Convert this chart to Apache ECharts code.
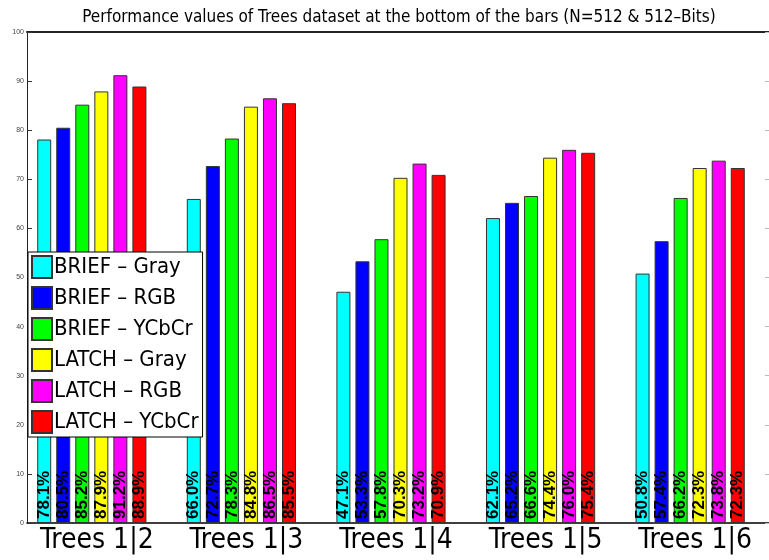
<!DOCTYPE html>
<html>
<head>
<meta charset="utf-8">
<script src="https://cdn.jsdelivr.net/npm/echarts@6/dist/echarts.min.js"></script>
<style>
  html, body { margin: 0; padding: 0; background: #fff; }
  #chart { width: 769px; height: 560px; }
</style>
</head>
<body>
<div id="chart"></div>
<script>
const categories = ['Trees 1|2', 'Trees 1|3', 'Trees 1|4', 'Trees 1|5', 'Trees 1|6']
const seriesNames = ['BRIEF – Gray', 'BRIEF – RGB', 'BRIEF – YCbCr', 'LATCH – Gray', 'LATCH – RGB', 'LATCH – YCbCr']
const briefGray = [78.1, 66.0, 47.1, 62.1, 50.8]
const briefRgb = [80.5, 72.7, 53.3, 65.2, 57.4]
const briefYcbcr = [85.2, 78.3, 57.8, 66.6, 66.2]
const latchGray = [87.9, 84.8, 70.3, 74.4, 72.3]
const latchRgb = [91.2, 86.5, 73.2, 76.0, 73.8]
const latchYcbcr = [88.9, 85.5, 70.9, 75.4, 72.3]
const yTicks = [0, 10, 20, 30, 40, 50, 60, 70, 80, 90, 100]

const colors = ['#00ffff', '#0000ff', '#00ff00', '#ffff00', '#ff00ff', '#ff0000']
const allValues = [briefGray, briefRgb, briefYcbcr, latchGray, latchRgb, latchYcbcr]

// condensed face, closest to the narrow font of the original
const narrow = '"DejaVu Sans Condensed", "Liberation Sans Narrow", "Liberation Sans", sans-serif'

const chart = echarts.init(document.getElementById('chart'))

const series = allValues.map((vals, k) => ({
  name: seriesNames[k],
  type: 'bar',
  xAxisIndex: 0,
  yAxisIndex: 0,
  barWidth: 14,
  barGap: '36%',
  data: vals.map((v, i) => [i + 1, v]),
  itemStyle: {
    color: colors[k],
    borderColor: '#333',
    borderWidth: 1
  },
  label: {
    show: true,
    position: 'insideBottom',
    rotate: 90,
    align: 'left',
    verticalAlign: 'middle',
    distance: 4,
    formatter: p => p.value[1].toFixed(1) + '%',
    color: '#000',
    fontWeight: 'bold',
    fontSize: 17,
    fontFamily: '"Liberation Sans", Arial, sans-serif'
  },
  animation: false
}))

chart.setOption({
  animation: false,
  title: {
    text: 'Performance values of Trees dataset at the bottom of the bars (N=512 & 512–Bits)',
    left: 394,
    textAlign: 'center',
    top: 4,
    textStyle: {
      fontFamily: narrow,
      fontWeight: 'normal',
      fontSize: 17,
      color: '#000'
    }
  },
  legend: {
    orient: 'vertical',
    left: 28,
    top: 252,
    padding: [3, 4, 3, 3],
    itemWidth: 20,
    itemHeight: 22,
    itemGap: 7,
    backgroundColor: '#fff',
    borderColor: '#000',
    borderWidth: 1,
    icon: 'rect',
    textStyle: {
      fontFamily: narrow,
      fontSize: 22,
      lineHeight: 22,
      color: '#000',
      padding: [0, 0, 0, -3]
    },
    data: seriesNames
  },
  grid: {
    left: 27,
    right: -2,
    top: 32,
    bottom: 37,
    containLabel: false
  },
  xAxis: [{
    type: 'value',
    min: 0.5667,
    max: 5.527,
    position: 'bottom',
    splitLine: { show: false },
    axisTick: { show: false },
    axisLine: { show: true, onZero: false, lineStyle: { color: '#000', width: 1.5 } },
    axisLabel: {
      customValues: [1, 2, 3, 4, 5],
      formatter: v => categories[Math.round(v) - 1] || '',
      fontFamily: narrow,
      fontSize: 28,
      color: '#000',
      margin: 4,
      padding: [0, 0, 0, 10]
    }
  }, {
    type: 'value',
    min: 0.5667,
    max: 5.527,
    position: 'top',
    splitLine: { show: false },
    axisTick: { show: false },
    axisLabel: { show: false },
    axisLine: { show: true, onZero: false, lineStyle: { color: '#222', width: 2 } }
  }],
  yAxis: [{
    type: 'value',
    min: 0,
    max: 100,
    interval: 10,
    position: 'left',
    splitLine: { show: false },
    axisLine: { show: true, lineStyle: { color: '#222', width: 1 } },
    axisTick: { show: true, inside: true, length: 5, lineStyle: { color: '#333' } },
    axisLabel: {
      fontSize: 7,
      color: '#444',
      margin: 3,
      formatter: v => (yTicks.indexOf(v) >= 0 ? String(v) : '')
    }
  }, {
    type: 'value',
    min: 0,
    max: 100,
    interval: 10,
    position: 'right',
    splitLine: { show: false },
    axisLine: { show: true, lineStyle: { color: '#222', width: 1 } },
    axisTick: { show: true, inside: true, length: 4, lineStyle: { color: '#bbb' } },
    axisLabel: { show: false }
  }],
  series: series
})
</script>
</body>
</html>
